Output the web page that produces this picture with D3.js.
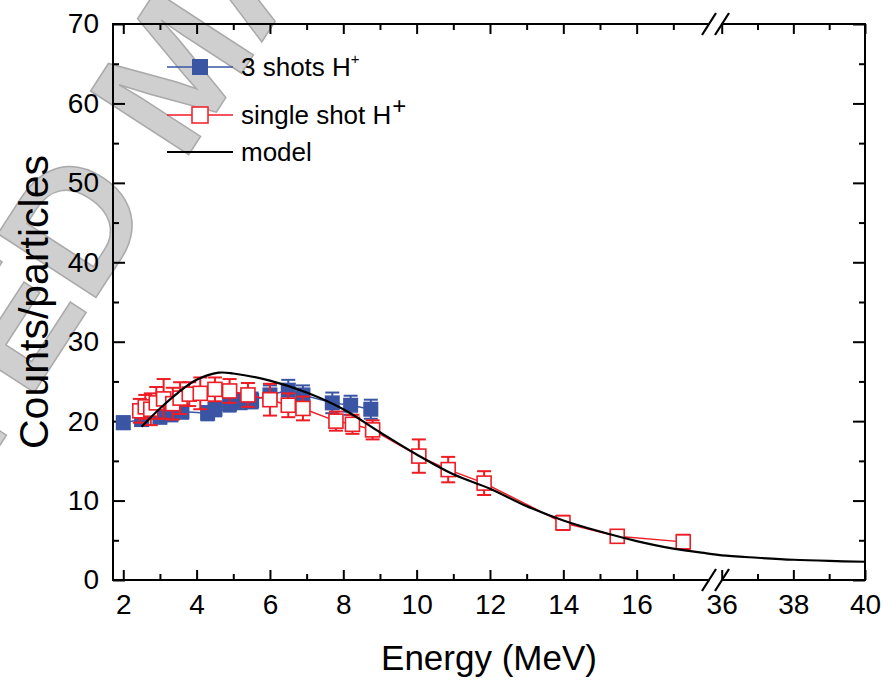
<!DOCTYPE html>
<html><head><meta charset="utf-8">
<script src="https://cdn.jsdelivr.net/npm/d3@7"></script>
<style>body{margin:0;background:#fff}svg{display:block}text{font-family:"Liberation Sans",Arial,sans-serif}</style>
</head><body><svg id="c" width="889" height="683"></svg>
<script>
// ---- data ----
const blueE = [2.0, 2.5, 3.0, 3.3, 3.6, 4.3, 4.5, 4.9, 5.2, 5.5, 6.0, 6.5, 6.9, 7.7, 8.2, 8.75];
const blueY = [19.8, 20.2, 20.5, 20.8, 21.2, 21.0, 21.5, 22.2, 22.5, 22.6, 23.3, 23.9, 23.3, 22.3, 22.0, 21.5];
const blueErr = [0.8, 0.8, 0.8, 0.8, 0.9, 0.9, 0.9, 1.0, 1.0, 1.0, 1.2, 1.3, 1.2, 1.3, 1.2, 1.2];
const redE = [2.45, 2.6, 2.75, 2.9, 3.1, 3.35, 3.55, 3.8, 4.1, 4.5, 4.9, 5.4, 6.0, 6.5, 6.9, 7.8, 8.25, 8.8, 10.06, 10.86, 11.84, 13.99, 15.47, 17.27];
const redY = [21.3, 21.8, 21.5, 22.3, 22.8, 22.2, 22.9, 23.4, 23.5, 24.0, 23.8, 23.3, 22.7, 22.0, 21.6, 20.0, 19.6, 18.9, 15.6, 13.9, 12.2, 7.2, 5.5, 4.8];
const redErr = [1.5, 1.5, 2.0, 2.0, 2.5, 2.0, 2.0, 1.5, 2.0, 1.5, 1.5, 1.5, 2.0, 1.5, 1.5, 1.2, 1.2, 1.2, 2.1, 1.6, 1.5, 0.9, 0.8, 0.9];
const modelE = [2.5, 3, 3.5, 4, 4.6, 5, 6, 7, 8, 9, 10, 11, 12, 13, 14, 15, 16, 17, 18, 36, 37, 38, 39, 40];
const modelY = [19.3, 21.6, 23.6, 25.2, 26.1, 26.0, 25.1, 23.6, 21.5, 18.6, 15.8, 13.3, 11.5, 9.3, 7.5, 6.1, 4.9, 3.95, 3.3, 3.1, 2.8, 2.55, 2.4, 2.3];
const xMajor1 = [2, 4, 6, 8, 10, 12, 14, 16];
const xMinor1 = [3, 5, 7, 9, 11, 13, 15, 17];
const xMajor2 = [36, 38, 40];
const xMinor2 = [37, 39];
const yMajor = [0, 10, 20, 30, 40, 50, 60, 70];
const yMinor = [5, 15, 25, 35, 45, 55, 65];
const legendLabels = ["3 shots H", "single shot H", "model"];

const blue = "#3a55a4", red = "#ee1c25";
const svg = d3.select("#c");

// watermark (background)
const wmSize = 170;
const wm = svg.append("g").attr("transform","translate(72,222) rotate(-57)");
wm.append("text").attr("x",-5.14*wmSize).attr("y",0.36*wmSize).attr("font-size",wmSize).attr("font-weight","bold")
  .attr("fill","#cfcfcf").attr("stroke","#aaaaaa").attr("stroke-width",1.5)
  .text("ACCEPTED MANUSCRIPT");

const L = 113, R = 865, T = 24, B = 580;
const x1 = d3.scaleLinear().domain([1.72, 18.0]).range([L, 710]);
const x2 = d3.scaleLinear().domain([36, 40]).range([721.7, R]);
const X = e => e < 25 ? x1(e) : x2(e);
const y = d3.scaleLinear().domain([0, 70]).range([B, T]);

function styleAxis(g){ g.selectAll("path,line").attr("stroke","#000").attr("stroke-width",2); g.selectAll("text").attr("font-size",28).attr("fill","#000").style("font-family","Liberation Sans, Arial, sans-serif"); g.select(".domain").remove(); }
const fmt = d3.format("d");

// x axes bottom
svg.append("g").attr("transform",`translate(0,${B})`).call(d3.axisBottom(x1).tickValues(xMajor1).tickSize(-10).tickSizeOuter(0).tickPadding(14).tickFormat(fmt)).call(styleAxis);
svg.append("g").attr("transform",`translate(0,${B})`).call(d3.axisBottom(x1).tickValues(xMinor1).tickSize(-6).tickSizeOuter(0).tickFormat("")).call(styleAxis);
svg.append("g").attr("transform",`translate(0,${B})`).call(d3.axisBottom(x2).tickValues(xMajor2).tickSize(-10).tickSizeOuter(0).tickPadding(14).tickFormat(fmt)).call(styleAxis);
svg.append("g").attr("transform",`translate(0,${B})`).call(d3.axisBottom(x2).tickValues(xMinor2).tickSize(-6).tickSizeOuter(0).tickFormat("")).call(styleAxis);
// top
svg.append("g").attr("transform",`translate(0,${T})`).call(d3.axisTop(x1).tickValues(xMajor1).tickSize(-10).tickFormat("")).call(styleAxis);
svg.append("g").attr("transform",`translate(0,${T})`).call(d3.axisTop(x1).tickValues(xMinor1).tickSize(-6).tickFormat("")).call(styleAxis);
svg.append("g").attr("transform",`translate(0,${T})`).call(d3.axisTop(x2).tickValues(xMajor2).tickSize(-10).tickFormat("")).call(styleAxis);
svg.append("g").attr("transform",`translate(0,${T})`).call(d3.axisTop(x2).tickValues(xMinor2).tickSize(-6).tickFormat("")).call(styleAxis);
// y axes
svg.append("g").attr("transform",`translate(${L},0)`).call(d3.axisLeft(y).tickValues(yMajor).tickSize(-12).tickPadding(14).tickFormat(fmt)).call(styleAxis);
svg.append("g").attr("transform",`translate(${L},0)`).call(d3.axisLeft(y).tickValues(yMinor).tickSize(-6).tickFormat("")).call(styleAxis);
svg.append("g").attr("transform",`translate(${R},0)`).call(d3.axisRight(y).tickValues(yMajor).tickSize(-12).tickFormat("")).call(styleAxis);
svg.append("g").attr("transform",`translate(${R},0)`).call(d3.axisRight(y).tickValues(yMinor).tickSize(-6).tickFormat("")).call(styleAxis);

// frame lines with breaks
const frame = svg.append("g").attr("stroke","#000").attr("stroke-width",2).attr("fill","none");
frame.append("line").attr("x1",L).attr("x2",L).attr("y1",T-1).attr("y2",B+1);
frame.append("line").attr("x1",R).attr("x2",R).attr("y1",T-1).attr("y2",B+1);
[B, T].forEach(yy => {
  frame.append("line").attr("x1",L).attr("x2",708).attr("y1",yy).attr("y2",yy);
  frame.append("line").attr("x1",721).attr("x2",R+1).attr("y1",yy).attr("y2",yy);
  frame.append("line").attr("x1",702).attr("y1",yy+11).attr("x2",716).attr("y2",yy-11).attr("stroke-width",2.2);
  frame.append("line").attr("x1",715).attr("y1",yy+11).attr("x2",729).attr("y2",yy-11).attr("stroke-width",2.2);
});

// series
const blueD = blueE.map((e,i)=>({e, v: blueY[i], err: blueErr[i]}));
const redD = redE.map((e,i)=>({e, v: redY[i], err: redErr[i]}));
const modelD = modelE.map((e,i)=>({e, v: modelY[i]}));
const line = d3.line().x(d=>X(d.e)).y(d=>y(d.v));

function errBars(data, color){
  const g = svg.append("g").attr("stroke", color).attr("stroke-width",2);
  data.forEach(d => {
    const cx = X(d.e), t = y(d.v + d.err), b = y(d.v - d.err);
    g.append("line").attr("x1",cx).attr("x2",cx).attr("y1",t).attr("y2",b);
    g.append("line").attr("x1",cx-7).attr("x2",cx+7).attr("y1",t).attr("y2",t);
    g.append("line").attr("x1",cx-7).attr("x2",cx+7).attr("y1",b).attr("y2",b);
  });
}
// blue
svg.append("path").datum(blueD).attr("d",line).attr("fill","none").attr("stroke",blue).attr("stroke-width",1.5);
errBars(blueD, blue);
svg.append("g").selectAll("rect").data(blueD).join("rect")
  .attr("x",d=>X(d.e)-7.5).attr("y",d=>y(d.v)-7.5).attr("width",15).attr("height",15).attr("fill",blue);
// red
svg.append("path").datum(redD).attr("d",line).attr("fill","none").attr("stroke",red).attr("stroke-width",1.5);
errBars(redD, red);
svg.append("g").selectAll("rect").data(redD).join("rect")
  .attr("x",d=>X(d.e)-7).attr("y",d=>y(d.v)-7).attr("width",14).attr("height",14).attr("fill","#fff").attr("stroke",red).attr("stroke-width",1.6);
// model
svg.append("path").datum(modelD).attr("d",d3.line().x(d=>X(d.e)).y(d=>y(d.v)).curve(d3.curveCatmullRom)).attr("fill","none").attr("stroke","#000").attr("stroke-width",2.2);

// legend
const lg = svg.append("g");
const rows = [67, 115, 152];
lg.append("line").attr("x1",167).attr("x2",233).attr("y1",rows[0]).attr("y2",rows[0]).attr("stroke",blue).attr("stroke-width",1.5);
lg.append("rect").attr("x",192).attr("y",rows[0]-8).attr("width",16).attr("height",16).attr("fill",blue);
lg.append("line").attr("x1",167).attr("x2",233).attr("y1",rows[1]).attr("y2",rows[1]).attr("stroke",red).attr("stroke-width",1.5);
lg.append("rect").attr("x",192).attr("y",rows[1]-8).attr("width",16).attr("height",16).attr("fill","#fff").attr("stroke",red).attr("stroke-width",1.5);
lg.append("line").attr("x1",167).attr("x2",233).attr("y1",rows[2]).attr("y2",rows[2]).attr("stroke","#000").attr("stroke-width",2);
const t0 = lg.append("text").attr("x",241).attr("y",rows[0]+9).attr("font-size",26).text(legendLabels[0]);
t0.append("tspan").attr("font-size",15).attr("dy",-12).text("+");
const t1 = lg.append("text").attr("x",241).attr("y",rows[1]+9).attr("font-size",26).text(legendLabels[1]);
t1.append("tspan").attr("font-size",24).attr("dy",-10).attr("dx",1).text("+");
lg.append("text").attr("x",241).attr("y",rows[2]+9).attr("font-size",26).text(legendLabels[2]);

// titles
svg.append("text").attr("x",489).attr("y",670).attr("text-anchor","middle").attr("font-size",35).text("Energy (MeV)");
svg.append("text").attr("transform","translate(48,302) rotate(-90)").attr("text-anchor","middle").attr("font-size",41).text("Counts/particles");
</script></body></html>
